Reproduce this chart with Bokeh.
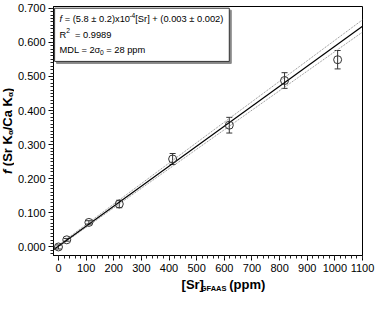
import numpy as np
from bokeh.plotting import figure
from bokeh.models import (ColumnDataSource, Whisker, TeeHead, Label, SingleIntervalTicker,
                          NumeralTickFormatter, Range1d)
from bokeh.layouts import row, column
from bokeh.embed import file_html
from bokeh.resources import INLINE

# ---------------- data ----------------
sr_ppm = [0, 30, 110, 220, 413, 618, 818, 1010]
f_ratio = [0.000, 0.021, 0.072, 0.126, 0.258, 0.357, 0.488, 0.549]
f_err = [0.006, 0.004, 0.005, 0.011, 0.016, 0.023, 0.023, 0.027]

fit_x = [-18, 1100]
fit_y = [-0.008, 0.647]
band_hi_y = [-0.005, 0.666]
band_lo_y = [-0.010, 0.630]

eq_line1 = ["f", " = (5.8 \u00b1 0.2)x10", "-4", "[Sr] + (0.003 \u00b1 0.002)"]
eq_line2 = ["R", "2", "  = 0.9989"]
eq_line3 = ["MDL = 2\u03c3", "0", " = 28 ppm"]

y_title = [("f", "bold italic", False), (" (Sr K", "bold", False), ("\u03b1", "bold", True),
           ("/Ca K", "bold", False), ("\u03b1", "bold", True), (")", "bold", False)]
x_title = [("[Sr]", False), ("GFAAS", True), ("  (ppm)", False)]

# ---------------- layout ----------------
W, H = 376, 293
YW = 14            # width of y-title strip
XH = 18            # height of x-title strip
MW, MH = W - YW, H - XH
BL, BR, BT, BB = 36, 14, 6, 20
X0, X1 = -18, 1100
Y0, Y1 = -0.025, 0.705
FW, FH = MW - BL - BR, MH - BT - BB
pxx = FW / (X1 - X0)
pyy = FH / (Y1 - Y0)
FONT = "Liberation Sans"

# Arial / Liberation Sans advance widths (em)
REG = {' ': .278, '=': .584, '(': .333, ')': .333, '.': .278, '\u00b1': .549, 'x': .5,
       '-': .333, '[': .278, ']': .278, '+': .584, 'S': .667, 'r': .333, 'R': .722,
       'M': .833, 'D': .722, 'L': .556, '\u03c3': .58, 'p': .556, 'm': .833, 'f': .278}
BOLD = {' ': .278, '(': .333, ')': .333, '[': .333, ']': .333, 'S': .667, 'r': .389,
        'K': .722, '/': .278, 'C': .722, 'a': .556, 'G': .778, 'F': .611, 'A': .722,
        'p': .611, 'm': .889, 'f': .333, '\u03b1': .6}


def tw(s, size, bold=False):
    tab = BOLD if bold else REG
    return sum(tab.get(c, .556) for c in s) * size


p = figure(width=MW, height=MH, output_backend="svg", toolbar_location=None,
           x_range=Range1d(X0, X1), y_range=Range1d(Y0, Y1),
           min_border_left=BL, min_border_right=BR, min_border_top=BT, min_border_bottom=BB)
p.xgrid.visible = False
p.ygrid.visible = False
p.outline_line_color = "black"
p.outline_line_width = 1
p.background_fill_color = "white"

p.xaxis.ticker = SingleIntervalTicker(interval=100, num_minor_ticks=5)
p.yaxis.ticker = SingleIntervalTicker(interval=0.1, num_minor_ticks=10)
p.yaxis.formatter = NumeralTickFormatter(format="0.000")

p.axis.major_label_text_font = FONT
p.axis.major_label_text_font_size = "11px"
p.axis.major_label_text_color = "black"
p.axis.axis_line_color = "black"
p.axis.major_tick_line_color = "black"
p.axis.minor_tick_line_color = "#222222"
p.axis.minor_tick_line_width = 1
p.axis.major_tick_out = 5
p.axis.major_tick_in = 0
p.axis.minor_tick_out = 3
p.axis.minor_tick_in = 0
p.axis.major_label_standoff = 3

# legend box with shadow
bx0, bx1, by0, by1 = -14, 618, 0.544, 0.700
sh = 2.0
p.quad(left=[bx0 + sh / pxx], right=[bx1 + sh / pxx], bottom=[by0 - sh / pyy], top=[by1 - sh / pyy],
       fill_color="#888888", line_color="#888888", line_width=1)
p.quad(left=[bx0], right=[bx1], bottom=[by0], top=[by1],
       fill_color="white", line_color="#333333", line_width=1)

# fit line and confidence bands
p.line(fit_x, band_hi_y, line_color="#888888", line_dash="1 1", line_width=1)
p.line(fit_x, band_lo_y, line_color="#888888", line_dash="1 1", line_width=1)
p.line(fit_x, fit_y, line_color="black", line_width=1.2)

src = ColumnDataSource(dict(x=sr_ppm, y=f_ratio,
                            upper=[a + b for a, b in zip(f_ratio, f_err)],
                            lower=[a - b for a, b in zip(f_ratio, f_err)]))
p.add_layout(Whisker(base="x", upper="upper", lower="lower", source=src,
                     line_color="#333333", line_width=1,
                     upper_head=TeeHead(size=6, line_color="#333333", line_width=1),
                     lower_head=TeeHead(size=6, line_color="#333333", line_width=1)))
p.scatter("x", "y", source=src, marker="circle", size=8, fill_color=None,
          line_color="#333333", line_width=1)


def lab(fig, x, y, text, size, style="normal", angle=0.0):
    fig.add_layout(Label(x=x, y=y, text=text, text_font=FONT, text_font_size=f"{size}px",
                         text_font_style=style, text_color="black", text_align="left",
                         text_baseline="middle", angle=angle))


# equation text inside the box (data coordinates)
FS = 9.3
SUB = 0.72 * FS
tx = bx0 + 5 / pxx
ys = [0.667, 0.622, 0.578]


def eq(parts, y):
    cx = tx
    for text, size, style, shift in parts:
        stripped = text.lstrip(" ")
        cx += tw(text[:len(text) - len(stripped)], size) / pxx
        lab(p, cx, y + shift / pyy, stripped, size, style)
        cx += tw(stripped, size) / pxx


eq([(eq_line1[0], FS, "italic", 0), (eq_line1[1], FS, "normal", 0),
    (eq_line1[2], SUB, "normal", 4), (eq_line1[3], FS, "normal", 0)], ys[0])
eq([(eq_line2[0], FS, "normal", 0), (eq_line2[1], SUB, "normal", 4),
    (eq_line2[2], FS, "normal", 0)], ys[1])
eq([(eq_line3[0], FS, "normal", 0), (eq_line3[1], SUB, "normal", -3),
    (eq_line3[2], FS, "normal", 0)], ys[2])


def strip(w, h):
    f = figure(width=w, height=h, output_backend="svg", toolbar_location=None,
               x_range=Range1d(0, w), y_range=Range1d(0, h),
               x_axis_type=None, y_axis_type=None, min_border=0)
    f.xgrid.visible = False
    f.ygrid.visible = False
    f.outline_line_color = None
    return f


AF, AS = 13, 8

# y title strip (pixel coordinates, y up)
yfig = strip(YW, H)
segs = [(s, AS if sub else AF, st, 3 if sub else 0) for s, st, sub in y_title]
total = sum(tw(s, sz, True) for s, sz, _, _ in segs)
cy = H - (BT + FH / 2) - total / 2
for s, sz, st, dx in segs:
    stripped = s.lstrip(" ")
    cy += tw(s[:len(s) - len(stripped)], sz, True)
    lab(yfig, 7 + dx, cy, stripped, sz, st, angle=np.pi / 2)
    cy += tw(stripped, sz, True)

# x title strip
xfig = strip(MW, XH)
segs = [(s, 7.5 if sub else AF, -4 if sub else 0) for s, sub in x_title]
total = sum(tw(s, sz, True) for s, sz, _ in segs)
cx = BL + FW / 2 - total / 2 + 4
for s, sz, dy in segs:
    stripped = s.lstrip(" ")
    cx += tw(s[:len(s) - len(stripped)], sz, True)
    lab(xfig, cx, 9 + dy, stripped, sz, "bold")
    cx += tw(stripped, sz, True)

layout = row(yfig, column(p, xfig))
open("out.html", "w").write(file_html(layout, INLINE))
